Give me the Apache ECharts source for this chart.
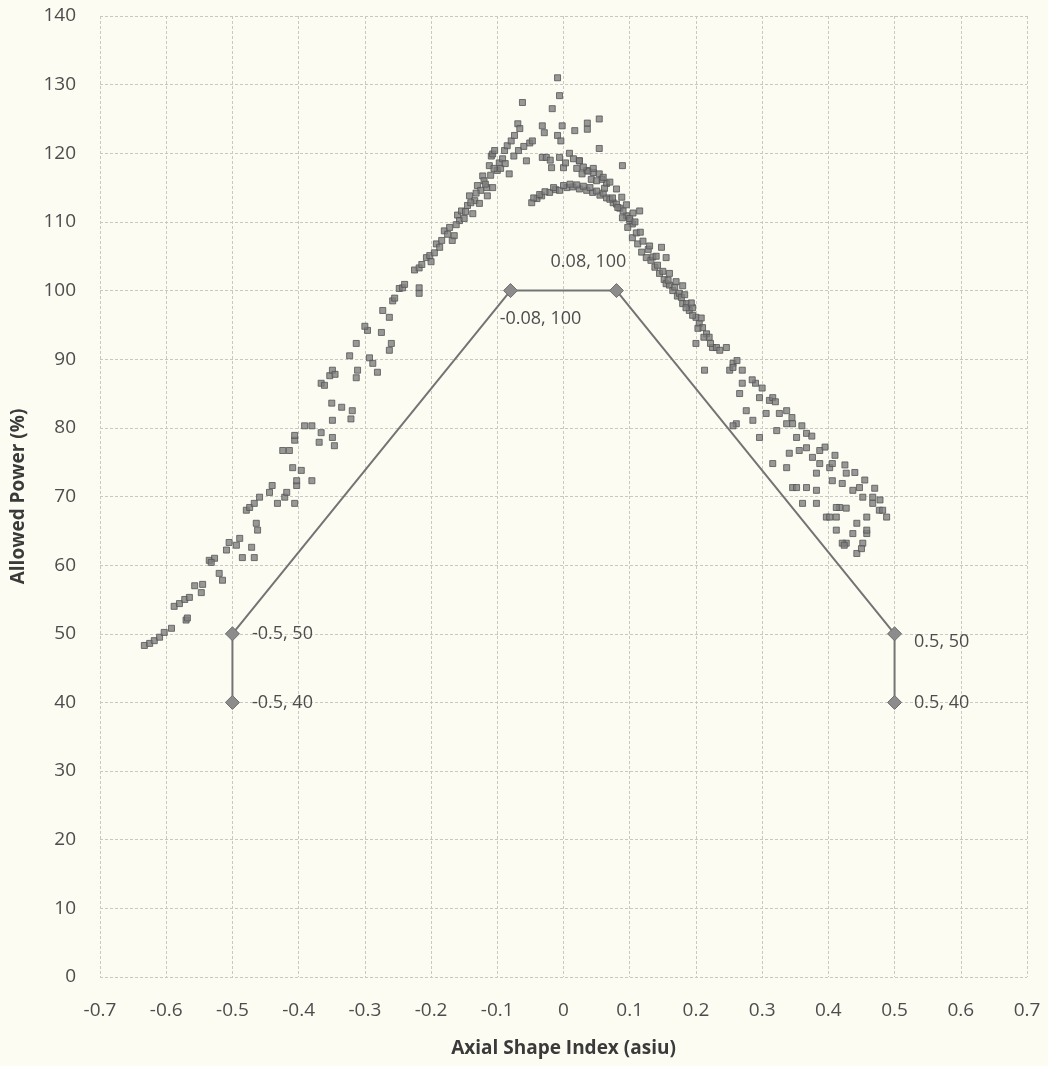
<!DOCTYPE html>
<html>
<head>
<meta charset="utf-8">
<script src="https://cdn.jsdelivr.net/npm/echarts@6/dist/echarts.min.js"></script>
<style>
html,body{margin:0;padding:0;background:#fcfcf3;}
#c{width:1048px;height:1066px;}
</style>
</head>
<body>
<div id="c"></div>
<script>
var xTicks = [-0.7,-0.6,-0.5,-0.4,-0.3,-0.2,-0.1,0,0.1,0.2,0.3,0.4,0.5,0.6,0.7];
var yTicks = [0,10,20,30,40,50,60,70,80,90,100,110,120,130,140];

var limitLine = [[-0.5,40],[-0.5,50],[-0.08,100],[0.08,100],[0.5,50],[0.5,40]];
var limitLabels = ['-0.5, 40','-0.5, 50','-0.08, 100','0.08, 100','0.5, 50','0.5, 40'];

var leftBranch = [[-0.633,48.3],[-0.625,48.6],[-0.618,49.0],[-0.61,49.5],[-0.603,50.2],[-0.592,50.8],[-0.57,52.0],[-0.568,52.3],[-0.588,54.0],[-0.58,54.4],[-0.572,55.0],[-0.565,55.3],[-0.557,57.0],[-0.547,56.0],[-0.545,57.2],[-0.535,60.7],[-0.527,61.0],[-0.532,60.4],[-0.52,58.8],[-0.515,57.8],[-0.509,62.2],[-0.505,63.3],[-0.494,62.9],[-0.489,63.9],[-0.485,61.1],[-0.471,62.6],[-0.467,61.1],[-0.479,68.0],[-0.474,68.4],[-0.467,69.0],[-0.459,69.9],[-0.464,66.1],[-0.462,65.1],[-0.444,70.6],[-0.44,71.6],[-0.432,69.0],[-0.421,69.9],[-0.418,70.6],[-0.406,69.0],[-0.403,71.6],[-0.403,72.3],[-0.409,74.2],[-0.396,73.8],[-0.38,72.3],[-0.424,76.7],[-0.414,76.7],[-0.406,78.2],[-0.406,78.9],[-0.391,80.3],[-0.38,80.3],[-0.366,79.3],[-0.369,77.9],[-0.349,81.1],[-0.349,78.6],[-0.346,77.4],[-0.35,83.6],[-0.335,83.0],[-0.319,82.5],[-0.321,81.3],[-0.366,86.5],[-0.361,86.2],[-0.353,87.6],[-0.349,88.4],[-0.345,87.8],[-0.311,88.4],[-0.313,87.3],[-0.323,90.5],[-0.293,90.2],[-0.288,89.4],[-0.281,88.1],[-0.313,92.3],[-0.296,94.2],[-0.275,93.9],[-0.26,92.3],[-0.263,91.3],[-0.3,94.8],[-0.273,97.1],[-0.263,96.1],[-0.258,98.5],[-0.255,98.9],[-0.248,100.3],[-0.243,100.4],[-0.24,100.9],[-0.218,100.4],[-0.218,99.6],[-0.225,103.0],[-0.218,103.3],[-0.214,103.8],[-0.207,104.8],[-0.202,105.1],[-0.2,104.2],[-0.192,106.8],[-0.187,106.3],[-0.184,107.3],[-0.18,108.7],[-0.172,109.2],[-0.168,107.3],[-0.165,108.0],[-0.16,111.0],[-0.157,110.2],[-0.154,111.6],[-0.15,110.5],[-0.145,112.4],[-0.142,113.8],[-0.137,111.2],[-0.134,113.1],[-0.13,115.3],[-0.127,112.7],[-0.125,114.6],[-0.122,116.7],[-0.12,116.0],[-0.116,115.0],[-0.115,113.8],[-0.112,118.2],[-0.109,119.6],[-0.107,119.9],[-0.104,120.4],[-0.107,115.0],[-0.1,117.5],[-0.097,118.6],[-0.092,119.2],[-0.089,120.4],[-0.085,121.1],[-0.082,117.0],[-0.079,121.8],[-0.074,122.6],[-0.069,124.3],[-0.066,123.6],[-0.062,127.4],[-0.056,118.9],[-0.051,121.5],[-0.047,121.8],[-0.195,105.5],[-0.175,108.2],[-0.162,109.6],[-0.148,111.5],[-0.14,112.8],[-0.132,114.2],[-0.118,115.5],[-0.11,116.8],[-0.095,117.8],[-0.088,118.5],[-0.075,119.6],[-0.068,120.4],[-0.06,121.0],[-0.105,117.8]];

var peakCluster = [[-0.009,131.0],[-0.006,128.4],[-0.017,126.5],[-0.032,124.0],[-0.029,123.0],[-0.002,124.0],[0.017,123.3],[0.036,124.4],[0.036,123.5],[0.054,125.0],[-0.009,122.6],[-0.004,121.8],[0.054,120.7],[0.089,118.2],[-0.032,119.4],[-0.026,119.4],[-0.018,117.9],[-0.006,119.4],[0.0,117.9],[0.009,120.0],[0.015,119.2],[0.024,118.9],[0.035,117.5],[0.045,117.2],[0.054,117.0],[0.065,115.6],[0.115,111.6],[0.148,106.3],[0.155,104.8],[0.18,100.7],[-0.02,119.0],[0.003,118.6],[0.02,117.8],[0.028,117.0],[0.042,116.2],[0.058,116.2]];

var innerArc = [[-0.048,112.8],[-0.04,113.4],[-0.033,113.8],[-0.021,114.3],[-0.012,114.7],[-0.006,114.6],[0.005,115.0],[0.014,115.1],[0.024,114.8],[0.035,114.6],[0.044,114.3],[0.055,113.9],[0.065,113.5],[0.075,112.8],[0.085,112.0],[0.095,110.9],[0.104,109.7],[-0.045,113.5],[-0.036,114.0],[-0.028,114.4],[-0.015,115.0],[0.0,115.3],[0.01,115.5],[0.02,115.4],[0.03,115.2],[0.04,115.0],[0.05,114.5],[0.06,114.2],[0.07,113.3],[0.08,112.6],[0.09,111.6],[0.1,110.2]];

var rightBranch = [[0.024,118.9],[0.037,117.4],[0.05,116.0],[0.062,114.9],[0.074,113.5],[0.082,112.1],[0.089,110.6],[0.097,109.2],[0.104,107.7],[0.112,106.8],[0.118,105.6],[0.125,104.8],[0.132,104.4],[0.138,103.4],[0.145,102.5],[0.152,101.6],[0.155,101.0],[0.16,100.8],[0.165,100.0],[0.172,99.2],[0.175,99.6],[0.18,98.1],[0.186,98.1],[0.19,97.1],[0.195,97.5],[0.2,96.1],[0.205,95.2],[0.21,94.6],[0.216,93.7],[0.22,93.2],[0.225,91.7],[0.231,91.7],[0.236,91.3],[0.246,91.7],[0.2,92.3],[0.213,88.4],[0.251,88.4],[0.256,89.4],[0.256,88.8],[0.27,88.4],[0.27,86.5],[0.29,86.5],[0.266,85.0],[0.296,84.4],[0.311,84.0],[0.316,84.4],[0.276,82.5],[0.306,82.1],[0.286,81.1],[0.326,82.1],[0.337,82.5],[0.337,80.6],[0.346,80.6],[0.261,80.6],[0.256,80.3],[0.296,78.6],[0.322,79.6],[0.352,78.6],[0.367,79.2],[0.367,77.1],[0.356,76.7],[0.341,76.3],[0.387,76.7],[0.316,74.8],[0.337,74.2],[0.376,75.7],[0.387,74.8],[0.402,74.2],[0.406,74.8],[0.382,73.4],[0.427,73.4],[0.406,72.3],[0.421,71.9],[0.346,71.3],[0.352,71.3],[0.367,71.3],[0.447,71.3],[0.437,70.9],[0.382,70.9],[0.452,69.9],[0.467,69.9],[0.467,69.0],[0.477,68.0],[0.482,68.0],[0.488,67.0],[0.361,69.0],[0.382,69.0],[0.417,68.4],[0.427,68.3],[0.412,68.4],[0.397,67.0],[0.402,67.0],[0.412,67.0],[0.458,67.0],[0.443,66.1],[0.437,64.6],[0.458,64.6],[0.458,65.1],[0.412,65.1],[0.427,63.2],[0.452,63.2],[0.421,63.2],[0.443,61.7],[0.424,62.9],[0.45,62.4],[0.3,85.8],[0.32,83.8],[0.345,81.5],[0.36,80.3],[0.375,78.8],[0.395,77.2],[0.41,76.0],[0.425,74.6],[0.44,73.5],[0.455,72.4],[0.47,71.2],[0.478,69.5],[0.285,87.0],[0.262,89.8],[0.1,110.5],[0.11,108.4],[0.12,107.2],[0.128,106.0],[0.135,104.9],[0.142,103.7],[0.15,102.8],[0.158,101.5],[0.168,100.5],[0.178,99.0],[0.185,97.5],[0.195,96.4],[0.203,94.5],[0.212,93.2],[0.222,92.3],[0.183,99.4],[0.193,98.2],[0.208,96.0],[0.17,101.3],[0.16,102.5],[0.14,105.0],[0.13,106.5],[0.116,108.5],[0.108,110.0],[0.03,118.0],[0.045,117.8],[0.06,116.5],[0.07,115.8],[0.08,114.8],[0.088,113.6],[0.095,112.5],[0.105,111.3]];

var chart = echarts.init(document.getElementById('c'), null, {renderer:'canvas'});
var fontFam = '"Open Sans", "Noto Sans", sans-serif';
var labelOpts = [
  {position:'right', distance:12, offset:[0,0]},
  {position:'right', distance:12, offset:[0,0]},
  {position:'bottom', distance:12, offset:[30,0]},
  {position:'top', distance:12, offset:[-28,0]},
  {position:'right', distance:12, offset:[0,8]},
  {position:'right', distance:12, offset:[0,0]}
];
var lineData = limitLine.map(function(p,i){
  return {value:p, label:Object.assign({show:true, formatter:limitLabels[i], color:'#4d4d4d', fontSize:18, fontFamily:fontFam}, labelOpts[i])};
});
var scatterStyle = {color:'#7e7e7e', borderColor:'#555', borderWidth:1};
function scat(d){ return {type:'scatter', data:d, symbol:'rect', symbolSize:6, itemStyle:scatterStyle, silent:true, z:2}; }

chart.setOption({
  backgroundColor:'#fcfcf3',
  animation:false,
  grid:{left:100, right:21, top:16, bottom:89, containLabel:false},
  xAxis:{type:'value', min:-0.7, max:0.7, interval:0.1,
    name:'Axial Shape Index (asiu)', nameLocation:'middle', nameGap:62,
    nameTextStyle:{fontSize:19, fontWeight:'bold', color:'#3a3a3a', fontFamily:fontFam},
    axisLine:{show:false}, axisTick:{show:false},
    axisLabel:{color:'#4d4d4d', fontSize:19, margin:24, fontFamily:fontFam,
      formatter:function(v){ var r=Math.round(v*10)/10; return r===0?'0':String(r);} },
    splitLine:{show:true, lineStyle:{color:'#c9c9c4', type:[3,2], width:1}}},
  yAxis:{type:'value', min:0, max:140, interval:10,
    name:'Allowed Power (%)', nameLocation:'middle', nameGap:72,
    nameTextStyle:{fontSize:19, fontWeight:'bold', color:'#3a3a3a', fontFamily:fontFam},
    axisLine:{show:false}, axisTick:{show:false},
    axisLabel:{color:'#4d4d4d', fontSize:19, margin:24, fontFamily:fontFam},
    splitLine:{show:true, lineStyle:{color:'#c9c9c4', type:[3,2], width:1}}},
  series:[
    scat(leftBranch), scat(peakCluster), scat(innerArc), scat(rightBranch),
    {type:'line', data:lineData, symbol:'diamond', symbolSize:14, z:5,
      lineStyle:{color:'#747474', width:2}, itemStyle:{color:'#8c8c8c', borderColor:'#6e6e6e', borderWidth:1}}
  ]
});
</script>
</body>
</html>
